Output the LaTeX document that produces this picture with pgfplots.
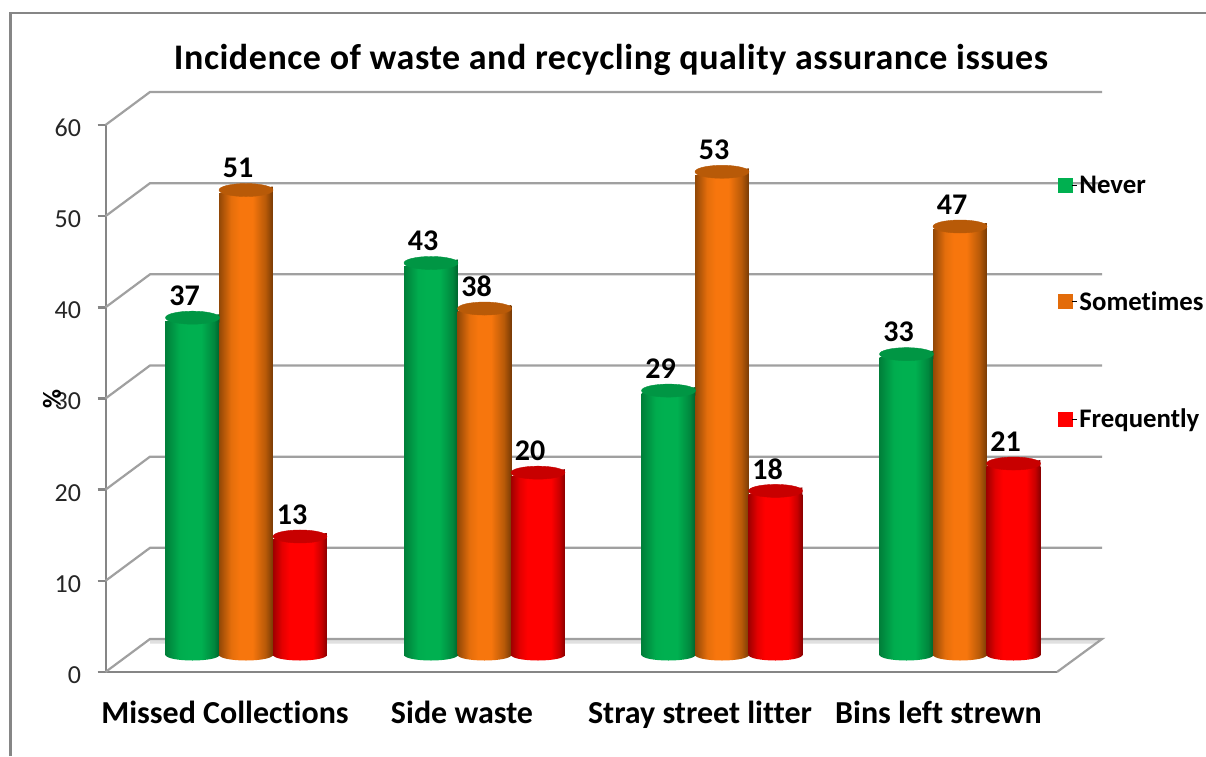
\documentclass[border=0pt]{standalone}
\usepackage{pgfplots}
\usepackage{fontspec}
\setmainfont[Ligatures=NoCommon]{Carlito}
\newfontfamily\titlefont[LetterSpace=1.5,Ligatures=NoCommon]{Carlito}
\pgfplotsset{compat=1.18}

\definecolor{gridc}{HTML}{A0A0A0}
\definecolor{axisc}{HTML}{868686}
\definecolor{never}{HTML}{00B050}
\definecolor{sometimes}{HTML}{E36C0A}
\definecolor{frequently}{HTML}{FF0000}
\definecolor{gtop}{HTML}{009644}
\definecolor{otop}{HTML}{B85A08}
\definecolor{rtop}{HTML}{C80000}
\definecolor{obright}{HTML}{F7760D}
\definecolor{rdark}{HTML}{A00000}

\pgfdeclarehorizontalshading{gbar}{100bp}{color(0bp)=(gtop);color(25bp)=(gtop!85!black);color(38bp)=(never!85!gtop);color(46bp)=(never);color(58bp)=(never);color(70bp)=(gtop!90!black);color(75bp)=(gtop!65!black);color(100bp)=(gtop!65!black)}
\pgfdeclarehorizontalshading{obar}{100bp}{color(0bp)=(otop);color(25bp)=(otop!80!black);color(36bp)=(otop!30!obright);color(44bp)=(obright);color(56bp)=(obright);color(68bp)=(otop);color(75bp)=(otop!65!black);color(100bp)=(otop!65!black)}
\pgfdeclarehorizontalshading{rbar}{100bp}{color(0bp)=(rdark);color(25bp)=(rdark);color(33bp)=(rtop!50!frequently);color(40bp)=(frequently);color(62bp)=(frequently);color(70bp)=(rtop);color(75bp)=(rdark!85!black);color(100bp)=(rdark!85!black)}

% top of a cylinder: the sloping end of the body, then the lid
\newcommand{\lid}[2]{%
  \path[draw=none,shading=#1] (-26.9pt,-3.5pt) -- (26.9pt,3.5pt) -- (26.9pt,-5pt) -- (-26.9pt,-5pt) -- cycle;
  \fill[#2,rotate=7.5] (0pt,0pt) ellipse (27pt and 6.5pt);}
\pgfdeclareplotmark{gt}{\lid{gbar}{gtop}}
\pgfdeclareplotmark{ot}{\lid{obar}{otop}}
\pgfdeclareplotmark{rt}{\lid{rbar}{rtop}}
\pgfdeclareplotmark{gb}{\path[draw=none,shading=gbar,yshift=-1.5pt,rotate=4] (0pt,0pt) ellipse (26.8pt and 5.5pt);}
\pgfdeclareplotmark{ob}{\path[draw=none,shading=obar,yshift=-1.5pt,rotate=4] (0pt,0pt) ellipse (26.8pt and 5.5pt);}
\pgfdeclareplotmark{rb}{\path[draw=none,shading=rbar,yshift=-1.5pt,rotate=4] (0pt,0pt) ellipse (26.8pt and 5.5pt);}

% one cylinder: x position, value, series letter
\newcommand{\cyl}[3]{%
  \addplot[only marks,mark=#3b,forget plot] coordinates {(#1,0)};
  \addplot[ybar,bar width=53.8pt,bar shift=0pt,draw=none,shading=#3bar,forget plot,y filter/.expression={y-0.37}] coordinates {(#1,#2)};
  \addplot[only marks,mark=#3t,forget plot,point meta=y,nodes near coords] coordinates {(#1,#2)};
}

\begin{document}
\begin{tikzpicture}[x=1pt,y=1pt]
\useasboundingbox (0,0) rectangle (1206,756);
\fill[white] (0,0) rectangle (1206,756);
\draw[axisc,line width=2.6pt] (10.5,0) -- (10.5,743) -- (1206,743);
% frame axis: front plane
\begin{axis}[
  at={(105.5pt,84pt)}, anchor=origin,
  scale only axis, width=951.5pt, height=547pt,
  xmin=105.5, xmax=1057, ymin=0, ymax=60,
  clip=false,
  axis lines*=left,
  axis line style={axisc,line width=2pt,-},
  x axis line style={line width=2.8pt},
  xtick={225,462,700,938.5},
  xticklabels={Missed Collections,Side waste,Stray street litter,Bins left strewn},
  ytick={0,10,20,30,40,50,60},
  /pgf/number format/assume math mode=true,
  x tick style={draw=none},
  y tick style={axisc,line width=2.6pt},
  major tick length=8pt,
  tick align=outside,
  yticklabel style={font=\fontsize{26}{26}\selectfont,text=black!85,anchor=east,xshift=-13pt,yshift=-3pt},
  xticklabel style={font=\fontsize{32}{32}\selectfont\bfseries,anchor=base,yshift=-43pt},
  title={\titlefont\bfseries Incidence of waste and recycling quality assurance issues},
  title style={font=\fontsize{36}{36}\selectfont,at={(axis description cs:0.5313,1.108)},anchor=center},
  ylabel={\%},
  ylabel style={font=\fontsize{26}{26}\selectfont\bfseries,at={(axis description cs:-0.0562,0.499)},anchor=center,rotate=0},
]
\addplot[fill=black!12,draw=none] coordinates {(150,3.62)(1102,3.62)(1096,3.1)(150,3.1)};
\addplot[gridc,line width=2.2pt] coordinates {(105.5,60)(150,63.62)(1102,63.62)};
\addplot[gridc,line width=2.2pt] coordinates {(105.5,50)(150,53.62)(1102,53.62)};
\addplot[gridc,line width=2.2pt] coordinates {(105.5,40)(150,43.62)(1102,43.62)};
\addplot[gridc,line width=2.2pt] coordinates {(105.5,30)(150,33.62)(1102,33.62)};
\addplot[gridc,line width=2.2pt] coordinates {(105.5,20)(150,23.62)(1102,23.62)};
\addplot[gridc,line width=2.2pt] coordinates {(105.5,10)(150,13.62)(1102,13.62)};
\addplot[gridc,line width=2.2pt] coordinates {(105.5,0)(150,3.62)(1102,3.62)(1057,0)};
\end{axis}
% bars: the plane half way back
\begin{axis}[
  at={(0pt,0pt)}, anchor=south west,
  scale only axis, width=1206pt, height=756pt,
  xmin=0, xmax=1206, ymin=-11.078, ymax=71.844,
  hide axis, clip=false,
  /pgf/number format/assume math mode=true,
  legend style={at={(axis cs:1058,52.8)},anchor=north west,draw=none,fill=none,inner sep=0pt,outer sep=0pt,
    row sep=93pt,column sep=0pt,font=\fontsize{26.8}{27}\selectfont\bfseries,nodes={anchor=west}},
  every node near coord/.style={font=\fontsize{30}{30}\selectfont\bfseries,anchor=center,xshift=-8pt,yshift=22pt,text=black},
]
\cyl{192.5}{37}{g}
\cyl{246}{51}{o}
\cyl{300}{13}{r}
\cyl{431}{43}{g}
\cyl{484.5}{38}{o}
\cyl{538}{20}{r}
\cyl{668.5}{29}{g}
\cyl{722}{53}{o}
\cyl{775.5}{18}{r}
\cyl{906.5}{33}{g}
\cyl{960}{47}{o}
\cyl{1013.5}{21}{r}
\addlegendimage{legend image code/.code={\fill[never] (0pt,-7pt) rectangle (14pt,7pt);\path (14pt,0pt) -- (19pt,0pt);}}
\addlegendentry{Never}
\addlegendimage{legend image code/.code={\fill[sometimes] (0pt,-7pt) rectangle (14pt,7pt);\path (14pt,0pt) -- (19pt,0pt);}}
\addlegendentry{Sometimes}
\addlegendimage{legend image code/.code={\fill[frequently] (0pt,-7pt) rectangle (14pt,7pt);\path (14pt,0pt) -- (19pt,0pt);}}
\addlegendentry{Frequently}
\end{axis}
\end{tikzpicture}
\end{document}
